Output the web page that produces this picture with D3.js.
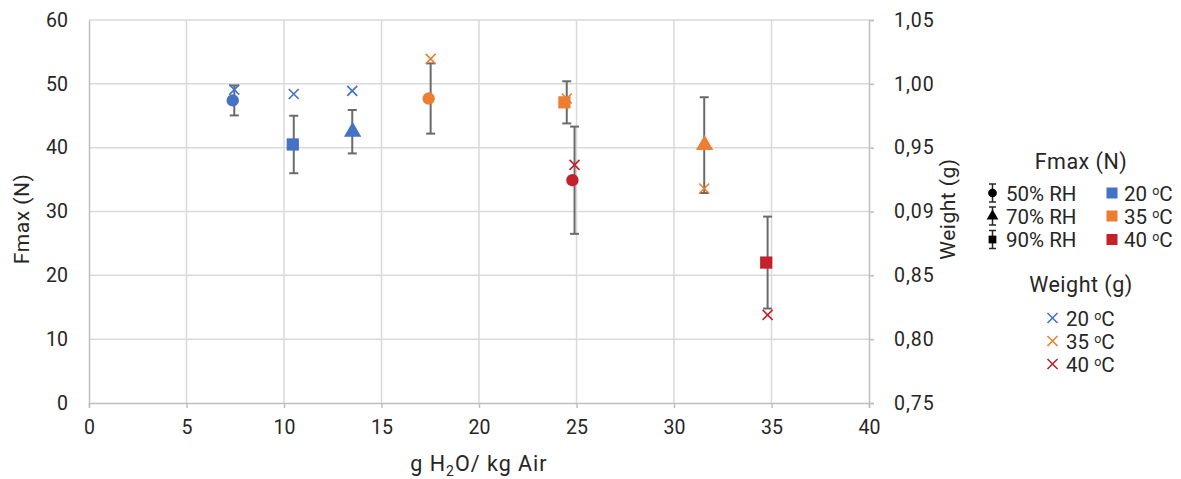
<!DOCTYPE html>
<html><head><meta charset="utf-8">
<script src="https://cdn.jsdelivr.net/npm/d3@7"></script>
<style>body{margin:0;background:#fff}svg{display:block;font-family:Roboto,"Noto Sans",sans-serif}</style>
</head><body><svg id="c" width="1181" height="479"></svg>
<script>
// ---- data ----
const xTicks = [0,5,10,15,20,25,30,35,40];
const yTicks = [0,10,20,30,40,50,60];
const y2Ticks = [0.75,0.80,0.85,0.90,0.95,1.00,1.05];
const y2TickLabels = ["0,75","0,80","0,85","0,09","0,95","1,00","1,05"];
const rhLabels = ["50% RH","70% RH","90% RH"];
const tempLabels = ["20","35","40"];
const tempColors = ["#4472C4","#ED7D31","#C5212B"];
// Fmax (N) series
const fmaxX    = [7.37, 10.45, 13.52, 17.42, 24.38, 24.79, 31.57, 34.73];
const fmaxY    = [47.4, 40.5, 42.5, 47.7, 47.1, 34.9, 40.4, 22.0];
const fmaxErr  = [2.35, 4.5, 3.4, 5.5, 3.3, 8.4, 7.5, 7.2];
const fmaxRH   = ["50% RH","90% RH","70% RH","50% RH","90% RH","50% RH","70% RH","90% RH"];
const fmaxTemp = ["20","20","20","35","35","40","35","40"];
// Weight (g) series
const weightX    = [7.45, 10.5, 13.5, 17.52, 24.5, 24.9, 31.55, 34.8];
const weightY    = [0.9955, 0.992, 0.9945, 1.0195, 0.9885, 0.9365, 0.918, 0.819];
const weightTemp = ["20","20","20","35","35","40","35","40"];

// ---- chart ----
const svg = d3.select("#c");
const x = d3.scaleLinear().domain([0,40]).range([89,869]);
const y = d3.scaleLinear().domain([0,60]).range([403,20]);
const y2 = d3.scaleLinear().domain([0.75,1.05]).range([403,20]);
const color = d3.scaleOrdinal().domain(tempLabels).range(tempColors);
const shape = d3.scaleOrdinal().domain(rhLabels).range([d3.symbolCircle,d3.symbolTriangle,d3.symbolSquare]);
const shapeSize = d3.scaleOrdinal().domain(rhLabels).range([120,130,150]);
const gridC = "#D9D9D9", axisC = "#BFBFBF", textC = "#262626", errC = "#6A6A6A";

// grid
svg.append("g").selectAll("line").data(xTicks.slice(1,-1)).join("line")
  .attr("x1",d=>x(d)).attr("x2",d=>x(d)).attr("y1",y(60)).attr("y2",y(0))
  .attr("stroke",gridC).attr("stroke-width",1.5);
svg.append("g").selectAll("line").data(yTicks.slice(1)).join("line")
  .attr("x1",x(0)).attr("x2",x(40)).attr("y1",d=>y(d)).attr("y2",d=>y(d))
  .attr("stroke",gridC).attr("stroke-width",1.5);

// axes
const ax = svg.append("g").attr("transform",`translate(0,${y(0)})`)
  .call(d3.axisBottom(x).tickValues(xTicks).tickSize(5).tickPadding(12));
const ayl = svg.append("g").attr("transform",`translate(${x(0)},0)`)
  .call(d3.axisLeft(y).tickValues(yTicks).tickSize(0).tickPadding(21));
const ayr = svg.append("g").attr("transform",`translate(${x(40)},0)`)
  .call(d3.axisRight(y2).tickValues(y2Ticks).tickSize(5).tickPadding(20)
    .tickFormat((d,i)=>y2TickLabels[i]));
[ax,ayl,ayr].forEach(g=>{
  g.select(".domain").attr("stroke",axisC).attr("stroke-width",1.5);
  g.selectAll(".tick line").attr("stroke",axisC).attr("stroke-width",1.5);
  g.selectAll("text").attr("fill",textC).style("font-size","19.5px").style("font-family","Roboto");
});
ayr.selectAll("text").style("letter-spacing","1px");

// axis titles
svg.append("text").attr("transform",`translate(29,${219}) rotate(-90)`)
  .attr("text-anchor","middle").attr("fill",textC).style("font-size","21px").style("letter-spacing","0.5px").text("Fmax (N)");
svg.append("text").attr("transform",`translate(955,${209}) rotate(-90)`)
  .attr("text-anchor","middle").attr("fill",textC).style("font-size","21px").style("letter-spacing","0.5px").text("Weight (g)");
const xt = svg.append("text").attr("x",(x(0)+x(40))/2).attr("y",471)
  .attr("text-anchor","middle").attr("fill",textC).style("font-size","21.5px").style("letter-spacing","1px");
xt.append("tspan").text("g H");
xt.append("tspan").attr("dy",5).style("font-size","14px").text("2");
xt.append("tspan").attr("dy",-5).text("O/ kg Air");

// error bars (positioned at the weight x positions as in the source)
const cap = 4.5;
const eb = svg.append("g").attr("stroke",errC).attr("stroke-width",2);
fmaxY.forEach((v,i)=>{
  const cx = x(weightX[i]);
  eb.append("line").attr("x1",cx).attr("x2",cx).attr("y1",y(v+fmaxErr[i])).attr("y2",y(v-fmaxErr[i]));
  eb.append("line").attr("x1",cx-cap).attr("x2",cx+cap).attr("y1",y(v+fmaxErr[i])).attr("y2",y(v+fmaxErr[i]));
  eb.append("line").attr("x1",cx-cap).attr("x2",cx+cap).attr("y1",y(v-fmaxErr[i])).attr("y2",y(v-fmaxErr[i]));
});

// Fmax markers
svg.append("g").selectAll("path").data(fmaxY).join("path")
  .attr("transform",(d,i)=>`translate(${x(fmaxX[i])},${y(d)})`)
  .attr("d",(d,i)=>d3.symbol(shape(fmaxRH[i]),shapeSize(fmaxRH[i]))())
  .attr("fill",(d,i)=>color(fmaxTemp[i]));

// Weight markers (x)
const xs = 5;
const wg = svg.append("g");
weightY.forEach((v,i)=>{
  const cx = x(weightX[i]), cy = y2(v);
  wg.append("path").attr("d",`M${cx-xs},${cy-xs}L${cx+xs},${cy+xs}M${cx-xs},${cy+xs}L${cx+xs},${cy-xs}`)
    .attr("stroke",color(weightTemp[i])).attr("stroke-width",1.6).attr("fill","none");
});

// legend
const lg = svg.append("g").attr("fill",textC).style("font-size","20.5px");
lg.append("text").attr("x",1081).attr("y",169).attr("text-anchor","middle").style("font-size","21.5px").style("letter-spacing","0.5px").text("Fmax (N)");
const rows = [193,216,239.5];
rhLabels.forEach((r,i)=>{
  const cy = rows[i], cx = 992.5;
  const g = lg.append("g").attr("stroke","#262626").attr("stroke-width",1.5);
  g.append("line").attr("x1",cx).attr("x2",cx).attr("y1",cy-9).attr("y2",cy+9);
  g.append("line").attr("x1",cx-3.5).attr("x2",cx+3.5).attr("y1",cy-9).attr("y2",cy-9);
  g.append("line").attr("x1",cx-3.5).attr("x2",cx+3.5).attr("y1",cy+9).attr("y2",cy+9);
  lg.append("path").attr("transform",`translate(${cx},${cy})`)
    .attr("d",d3.symbol(shape(r),60)()).attr("fill","#000");
  lg.append("text").attr("x",1006).attr("y",cy+7.5).text(r);
});
function tempText(sel,t){
  sel.append("tspan").text(t+" ");
  sel.append("tspan").attr("dy",-6).style("font-size","12.5px").text("o");
  sel.append("tspan").attr("dy",6).text("C");
}
tempLabels.forEach((t,i)=>{
  const cy = rows[i];
  lg.append("rect").attr("x",1106.5).attr("y",cy-5.5).attr("width",11).attr("height",11).attr("fill",tempColors[i]);
  tempText(lg.append("text").attr("x",1124).attr("y",cy+7.5),t);
});
lg.append("text").attr("x",1081).attr("y",292).attr("text-anchor","middle").style("font-size","21.5px").style("letter-spacing","0.5px").text("Weight (g)");
const wrows = [318,341,364];
tempLabels.forEach((t,i)=>{
  const cy = wrows[i], cx = 1052.5;
  lg.append("path").attr("d",`M${cx-xs},${cy-xs}L${cx+xs},${cy+xs}M${cx-xs},${cy+xs}L${cx+xs},${cy-xs}`)
    .attr("stroke",tempColors[i]).attr("stroke-width",1.6).attr("fill","none");
  tempText(lg.append("text").attr("x",1066).attr("y",cy+7.5),t);
});
</script></body></html>
